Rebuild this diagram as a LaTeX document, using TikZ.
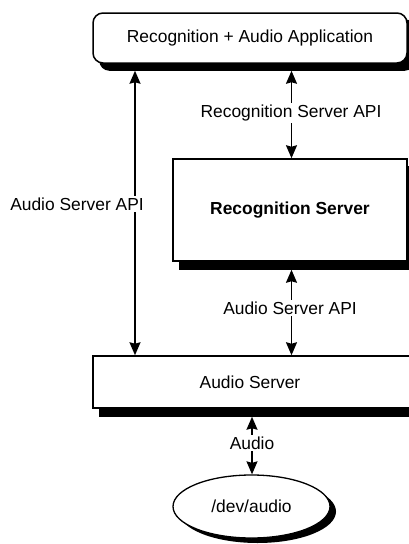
\documentclass[tikz,border=0pt]{standalone}
\usepackage{fontspec}
\setmainfont{Liberation Sans}
\usetikzlibrary{arrows.meta,shapes.geometric,backgrounds}

\begin{document}
\begin{tikzpicture}[x=1pt,y=-1pt,
  font=\fontsize{17.4}{20}\selectfont,
  block/.style={draw=black,line width=1.5pt,fill=white,rectangle,inner sep=0pt},
  tip/.tip={Stealth[length=13pt,width=11pt,inset=1.5pt]},
  link/.style={line width=1.5pt,tip-tip},
  tag/.style={fill=white,inner sep=2pt}]
  \useasboundingbox (0,0) rectangle (409,544);

  % components
  \node[block,rounded corners=10pt,minimum width=314pt,minimum height=50pt] (app) at (250,38)
    {Recognition + Audio Application};
  \node[block,minimum width=234pt,minimum height=102pt] (rs) at (290,210)
    {\bfseries Recognition Server};
  \node[block,minimum width=320pt,minimum height=52pt] (as) at (253,382)
    {\hspace*{-6pt}Audio Server};
  \node[draw=black,line width=1.3pt,fill=white,ellipse,inner sep=0pt,
        minimum width=157pt,minimum height=63pt] (dev) at (251.5,506.5)
    {/dev/audio};

  % solid black shadows, offset to the lower right
  \begin{scope}[on background layer]
    \fill[rounded corners=10pt] ([shift={(7,7)}]app.north west) rectangle ([shift={(7,7)}]app.south east);
    \fill ([shift={(7,8)}]rs.north west) rectangle ([shift={(7,8)}]rs.south east);
    \fill ([shift={(7,8)}]as.north west) rectangle ([shift={(7,8)}]as.south east);
    \fill ([shift={(6,5)}]dev.center) ellipse [x radius=78.5, y radius=31.5];
  \end{scope}

  % columns of the connectors
  \coordinate (cl) at (135,0);
  \coordinate (cr) at (291.5,0);
  \coordinate (cb) at (252,0);

  % connectors
  \draw[link,shorten <=7pt] (app.south -| cl) -- (as.north -| cl);
  \draw[link,shorten <=7pt] (app.south -| cr) -- (rs.north -| cr);
  \draw[link,shorten <=8pt] (rs.south -| cr) -- (as.north -| cr);
  \draw[link,shorten <=8pt] (as.south -| cb) -- (dev.north -| cb);

  % labels
  \node[tag] (l1) at (77,204) {Audio Server API};
  \node[tag] (l2) at (291,113) {Recognition Server API};
  \node[tag] (l3) at (290,308) {Audio Server API};
  \node[tag] (l4) at (252,443) {Audio};
\end{tikzpicture}
\end{document}
